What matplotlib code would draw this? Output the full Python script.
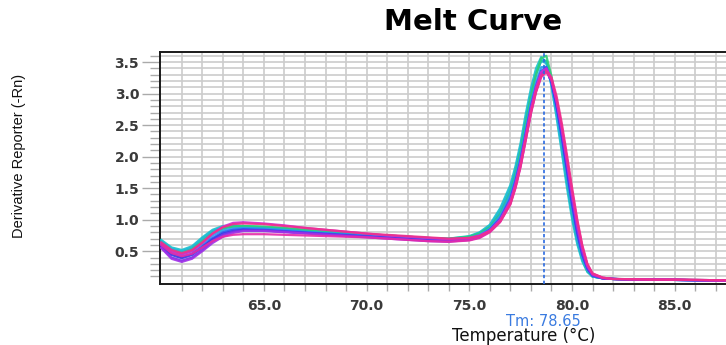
import matplotlib
matplotlib.use("Agg")
import matplotlib.pyplot as plt
from matplotlib.ticker import FixedLocator, FormatStrFormatter

# shared temperature grid (deg C)
temps = [60, 60.5, 61, 61.5, 62, 62.5, 63, 63.5, 64,
         65, 66, 67, 68, 69, 70, 71, 72, 73, 74, 75,
         75.5, 76, 76.5, 77, 77.25, 77.5, 77.75, 78, 78.25, 78.5,
         78.75, 79, 79.25, 79.5, 79.75, 80, 80.25, 80.5, 80.75, 81,
         81.5, 82, 83, 84, 85, 86, 87, 87.5]

# derivative reporter per well
well_01 = [0.68, 0.56, 0.52, 0.58, 0.72, 0.84, 0.90, 0.91, 0.90,
           0.88, 0.86, 0.83, 0.81, 0.79, 0.77, 0.75, 0.73, 0.71, 0.70, 0.74,
           0.80, 0.92, 1.18, 1.55, 1.85, 2.22, 2.68, 3.08, 3.40, 3.58,
           3.50, 3.12, 2.62, 2.08, 1.52, 1.02, 0.62, 0.34, 0.17, 0.10,
           0.07, 0.06, 0.05, 0.05, 0.045, 0.04, 0.035, 0.035]
well_02 = [0.66, 0.54, 0.50, 0.56, 0.70, 0.82, 0.88, 0.90, 0.89,
           0.87, 0.85, 0.82, 0.80, 0.78, 0.76, 0.74, 0.72, 0.70, 0.69, 0.73,
           0.79, 0.90, 1.14, 1.50, 1.80, 2.16, 2.60, 3.00, 3.32, 3.52,
           3.48, 3.15, 2.68, 2.15, 1.60, 1.08, 0.66, 0.37, 0.18, 0.10,
           0.07, 0.06, 0.05, 0.05, 0.045, 0.04, 0.035, 0.035]
well_03 = [0.64, 0.52, 0.48, 0.54, 0.67, 0.80, 0.87, 0.89, 0.89,
           0.87, 0.85, 0.83, 0.80, 0.78, 0.76, 0.74, 0.72, 0.70, 0.69, 0.72,
           0.78, 0.88, 1.10, 1.45, 1.74, 2.10, 2.55, 2.96, 3.30, 3.52,
           3.52, 3.22, 2.75, 2.22, 1.66, 1.12, 0.70, 0.39, 0.19, 0.10,
           0.07, 0.06, 0.05, 0.05, 0.045, 0.04, 0.035, 0.035]
well_04 = [0.62, 0.50, 0.46, 0.52, 0.65, 0.78, 0.86, 0.89, 0.90,
           0.89, 0.87, 0.84, 0.81, 0.79, 0.77, 0.75, 0.73, 0.71, 0.70, 0.73,
           0.78, 0.88, 1.08, 1.42, 1.72, 2.08, 2.52, 2.95, 3.30, 3.56,
           3.60, 3.28, 2.80, 2.26, 1.70, 1.15, 0.72, 0.40, 0.19, 0.10,
           0.07, 0.06, 0.055, 0.05, 0.05, 0.045, 0.04, 0.04]
well_05 = [0.63, 0.50, 0.45, 0.50, 0.62, 0.75, 0.83, 0.86, 0.87,
           0.86, 0.84, 0.81, 0.79, 0.77, 0.75, 0.73, 0.71, 0.69, 0.68, 0.71,
           0.76, 0.86, 1.06, 1.40, 1.68, 2.02, 2.45, 2.86, 3.18, 3.42,
           3.42, 3.16, 2.74, 2.24, 1.70, 1.16, 0.72, 0.40, 0.20, 0.10,
           0.07, 0.06, 0.05, 0.05, 0.045, 0.04, 0.035, 0.035]
well_06 = [0.60, 0.46, 0.41, 0.46, 0.58, 0.71, 0.80, 0.84, 0.85,
           0.84, 0.82, 0.80, 0.78, 0.76, 0.74, 0.72, 0.70, 0.68, 0.67, 0.70,
           0.74, 0.84, 1.02, 1.34, 1.62, 1.96, 2.38, 2.80, 3.12, 3.36,
           3.42, 3.20, 2.80, 2.32, 1.78, 1.24, 0.78, 0.44, 0.22, 0.11,
           0.07, 0.06, 0.05, 0.05, 0.045, 0.04, 0.035, 0.035]
well_07 = [0.58, 0.44, 0.39, 0.44, 0.56, 0.69, 0.78, 0.82, 0.84,
           0.83, 0.81, 0.79, 0.77, 0.75, 0.73, 0.71, 0.69, 0.67, 0.66, 0.69,
           0.73, 0.83, 1.00, 1.30, 1.58, 1.92, 2.34, 2.76, 3.08, 3.32,
           3.38, 3.18, 2.80, 2.34, 1.82, 1.28, 0.82, 0.46, 0.23, 0.12,
           0.07, 0.06, 0.05, 0.05, 0.045, 0.04, 0.035, 0.035]
well_08 = [0.56, 0.40, 0.35, 0.40, 0.52, 0.66, 0.76, 0.81, 0.83,
           0.83, 0.81, 0.79, 0.77, 0.75, 0.73, 0.71, 0.69, 0.67, 0.66, 0.68,
           0.72, 0.82, 0.98, 1.28, 1.55, 1.90, 2.32, 2.74, 3.08, 3.32,
           3.40, 3.22, 2.86, 2.40, 1.88, 1.34, 0.86, 0.48, 0.24, 0.12,
           0.07, 0.06, 0.05, 0.05, 0.045, 0.04, 0.035, 0.035]
well_09 = [0.55, 0.38, 0.33, 0.38, 0.50, 0.63, 0.73, 0.79, 0.82,
           0.82, 0.80, 0.78, 0.76, 0.74, 0.72, 0.70, 0.68, 0.66, 0.65, 0.68,
           0.72, 0.81, 0.97, 1.26, 1.52, 1.86, 2.28, 2.70, 3.04, 3.28,
           3.36, 3.22, 2.88, 2.44, 1.92, 1.38, 0.90, 0.52, 0.26, 0.13,
           0.07, 0.06, 0.05, 0.05, 0.045, 0.04, 0.035, 0.035]
well_10 = [0.62, 0.50, 0.45, 0.50, 0.63, 0.78, 0.89, 0.95, 0.96,
           0.94, 0.91, 0.87, 0.84, 0.81, 0.78, 0.75, 0.73, 0.71, 0.69, 0.71,
           0.75, 0.83, 1.00, 1.30, 1.58, 1.92, 2.34, 2.76, 3.10, 3.34,
           3.40, 3.24, 2.90, 2.46, 1.96, 1.44, 0.96, 0.56, 0.28, 0.14,
           0.08, 0.06, 0.055, 0.05, 0.05, 0.045, 0.04, 0.04]
well_11 = [0.60, 0.47, 0.42, 0.46, 0.56, 0.66, 0.73, 0.76, 0.77,
           0.77, 0.76, 0.75, 0.74, 0.73, 0.72, 0.70, 0.68, 0.66, 0.65, 0.67,
           0.71, 0.80, 0.96, 1.24, 1.50, 1.84, 2.26, 2.68, 3.02, 3.26,
           3.34, 3.22, 2.90, 2.48, 1.98, 1.46, 0.98, 0.58, 0.29, 0.14,
           0.08, 0.06, 0.055, 0.05, 0.05, 0.045, 0.04, 0.04]
well_12 = [0.64, 0.52, 0.47, 0.52, 0.64, 0.78, 0.88, 0.93, 0.94,
           0.93, 0.90, 0.87, 0.84, 0.81, 0.78, 0.76, 0.74, 0.72, 0.70, 0.71,
           0.74, 0.82, 0.97, 1.25, 1.52, 1.86, 2.28, 2.70, 3.04, 3.28,
           3.36, 3.26, 2.96, 2.54, 2.04, 1.52, 1.02, 0.60, 0.30, 0.15,
           0.08, 0.06, 0.055, 0.05, 0.05, 0.045, 0.04, 0.04]

wells = [well_01, well_02, well_03, well_04, well_05, well_06,
         well_07, well_08, well_09, well_10, well_11, well_12]
well_colors = ["#17c4cc", "#22b6dc", "#1cc0b4", "#2ecf78", "#2a9cf0", "#2d5cf0",
               "#3a3ae6", "#7a30e8", "#a030e8", "#d22ad6", "#e62aa8", "#f0308c"]

tm = 78.65
y_major = [0.5, 1.0, 1.5, 2.0, 2.5, 3.0, 3.5]
x_major = [65, 70, 75, 80, 85]

W, H = 726, 345
fig = plt.figure(figsize=(W / 100, H / 100), dpi=100)
ax = fig.add_axes([160 / W, 1 - 284 / H, 566 / W, 232 / H])

for y, c in zip(wells, well_colors):
    ax.plot(temps, y, color=c, lw=1.6, alpha=0.9, zorder=3)

ax.axvline(tm, color="#2a6ae0", lw=1.2, ls=(0, (2, 1.5)), zorder=4)

ax.set_xlim(59.94, 87.5)
ax.set_ylim(-0.02, 3.66)

ax.xaxis.set_major_locator(FixedLocator(x_major))
ax.xaxis.set_minor_locator(FixedLocator(list(range(61, 88))))
ax.yaxis.set_major_locator(FixedLocator(y_major))
ax.yaxis.set_minor_locator(FixedLocator([i / 10 for i in range(1, 37)]))
ax.xaxis.set_major_formatter(FormatStrFormatter("%.1f"))
ax.yaxis.set_major_formatter(FormatStrFormatter("%.1f"))

ax.grid(True, which="both", color="#cccccc", lw=1.2, zorder=0)
ax.set_axisbelow(True)

ax.tick_params(axis="x", which="both", length=5, width=1, color="#aaaaaa", pad=6)
ax.tick_params(axis="y", which="major", length=13, width=1, color="#aaaaaa", pad=2)
ax.tick_params(axis="y", which="minor", length=7, width=1, color="#aaaaaa")
for lab in ax.get_xticklabels() + ax.get_yticklabels():
    lab.set_fontfamily("DejaVu Sans")
    lab.set_fontweight("bold")
    lab.set_fontsize(10)
    lab.set_color("#3a3a3a")

ax.spines["right"].set_visible(False)
for s in ("left", "bottom", "top"):
    ax.spines[s].set_color("#1a1a1a")
    ax.spines[s].set_linewidth(1.4)

fig.text(473 / W, 1 - 22 / H, "Melt Curve", ha="center", va="center",
         fontsize=21, fontweight="heavy", family="DejaVu Sans", color="#000000")
fig.text(19 / W, 1 - 156 / H, "Derivative Reporter (-Rn)", rotation=90,
         ha="center", va="center", fontsize=10.5, family="Liberation Sans", color="#111111")
fig.text(524 / W, 1 - 336 / H, "Temperature (°C)", ha="center", va="center",
         fontsize=12, family="DejaVu Sans", color="#111111")
fig.text(543 / W, 1 - 321 / H, f"Tm: {tm:.2f}", ha="center", va="center",
         fontsize=10.5, family="DejaVu Sans", color="#3a7be0")

fig.savefig("out.png", dpi=100)
